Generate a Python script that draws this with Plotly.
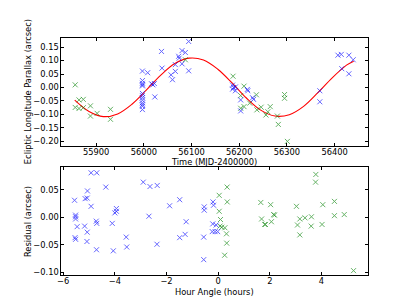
import plotly.graph_objects as go

# ---- top panel: parallax vs time ----
blue_t = [55997, 55997, 55997, 55997, 55997, 55997, 55997, 55997, 55997, 55997, 55997, 55997, 55997,
          56008, 56016, 56019, 56022, 56023, 56037, 56038, 56057, 56060, 56066, 56066, 56073, 56074,
          56080, 56080, 56087, 56094, 56094,
          56186, 56188, 56192, 56186, 56192, 56203, 56203, 56217, 56218, 56228, 56230,
          56369, 56369, 56407, 56414, 56415, 56430, 56430, 56439]
blue_p = [0.061, 0.026, 0.016, 0.010, 0.006, -0.022, -0.030, -0.038, -0.047, -0.057, -0.064, -0.070, -0.082,
          0.055, 0.014, 0.010, 0.015, -0.035, 0.134, 0.072, 0.047, 0.029, 0.060, 0.085, 0.116, 0.109,
          0.137, 0.088, 0.130, 0.171, 0.062,
          0.009, 0.000, 0.002, -0.006, -0.012, -0.046, -0.087, -0.007, -0.012, -0.038, -0.044,
          -0.012, -0.053, 0.120, 0.123, 0.070, 0.120, 0.051, 0.103]

green_t = [55856, 55856, 55864, 55864, 55873, 55873, 55888, 55888, 55902, 55930, 55930, 56087,
           56187, 56210, 56203, 56210, 56203, 56222, 56236, 56237, 56246, 56256, 56260, 56265,
           56280, 56282, 56295, 56295, 56301]
green_p = [0.010, -0.074, -0.046, -0.078, -0.044, -0.075, -0.068, -0.106, -0.096, -0.081, -0.118, 0.103,
           0.042, 0.005, -0.030, -0.071, -0.077, -0.058, -0.027, -0.083, -0.073, -0.102, -0.090, -0.071,
           -0.106, -0.137, -0.026, -0.040, -0.200]

# fitted parallax curve
fit_t = [55855, 55885, 55915, 55945, 55975, 56005, 56035, 56065, 56095, 56125, 56155,
         56185, 56215, 56245, 56275, 56305, 56335, 56365, 56395, 56425, 56440]
fit_p = [-0.047, -0.089, -0.108, -0.098, -0.062, -0.010, 0.045, 0.089, 0.109, 0.102, 0.068,
         0.017, -0.039, -0.084, -0.106, -0.101, -0.070, -0.019, 0.036, 0.083, 0.098]

# ---- bottom panel: residual vs hour angle ----
blue_h = [-5.56, -5.52, -5.52, -5.52, -5.46, -5.54, -5.52, -5.15, -5.07, -5.06, -5.17, -5.07, -5.08,
          -4.92, -4.92, -4.70, -4.72, -4.70, -4.71, -4.35, -4.10, -4.06, -4.00, -3.94, -3.94, -3.56,
          -3.54, -2.90, -2.68, -2.64, -2.36, -2.37, -1.88, -1.49, -1.49, -1.28, -1.24, -0.54, -0.54,
          -0.56, -0.56, -0.20, -0.18, -0.21, -0.08, -0.23, -0.12, -0.02]
blue_r = [0.031, 0.004, 0.001, -0.003, -0.017, -0.037, -0.040, 0.034, 0.035, 0.048, -0.016, -0.027, -0.044,
          0.020, 0.081, 0.081, -0.007, -0.011, -0.059, 0.055, -0.011, -0.061, 0.008, 0.016, 0.011, -0.036,
          -0.054, 0.064, 0.002, 0.056, 0.058, -0.049, 0.021, 0.032, -0.037, -0.031, -0.008, 0.019, 0.013,
          -0.036, -0.077, 0.028, 0.022, -0.012, -0.014, -0.026, -0.026, -0.026]

green_h = [0.04, 0.345, 0.35, 0.04, 0.09, 0.07, 0.14, 0.26, 0.32, 0.33, 0.25, 1.65, 1.68, 1.80, 1.83,
           2.03, 2.06, 2.15, 2.18, 3.03, 3.07, 3.16, 3.16, 3.36, 3.61, 3.60, 3.78, 3.77, 4.05, 4.02,
           4.50, 4.50, 4.88, 5.24]
green_r = [0.040, 0.055, 0.028, 0.011, -0.004, -0.016, -0.018, -0.019, -0.030, -0.047, -0.069, 0.027,
           -0.003, -0.013, -0.013, 0.023, -0.008, 0.005, 0.004, 0.020, -0.014, -0.003, -0.032, -0.001,
           0.001, -0.016, 0.078, 0.064, 0.023, -0.013, 0.029, 0.003, 0.005, -0.097]

BLUE = "rgb(0,0,255)"
GREEN = "rgb(0,128,0)"
FONT = "DejaVu Sans"
FS = 8.3


def xmark(color):
    return dict(symbol="x-thin", size=5, color=color, opacity=0.6,
                line=dict(width=1, color=color))


fig = go.Figure()
fig.add_trace(go.Scatter(x=fit_t, y=fit_p, mode="lines", line=dict(color="red", width=1.1, shape="spline"),
                         xaxis="x", yaxis="y", showlegend=False, hoverinfo="skip"))
fig.add_trace(go.Scatter(x=green_t, y=green_p, mode="markers", marker=xmark(GREEN),
                         xaxis="x", yaxis="y", showlegend=False))
fig.add_trace(go.Scatter(x=blue_t, y=blue_p, mode="markers", marker=xmark(BLUE),
                         xaxis="x", yaxis="y", showlegend=False))
fig.add_trace(go.Scatter(x=green_h, y=green_r, mode="markers", marker=xmark(GREEN),
                         xaxis="x2", yaxis="y2", showlegend=False))
fig.add_trace(go.Scatter(x=blue_h, y=blue_r, mode="markers", marker=xmark(BLUE),
                         xaxis="x2", yaxis="y2", showlegend=False))

axis_common = dict(showline=True, linecolor="black", linewidth=1, mirror="allticks",
                   ticks="inside", ticklen=3, tickwidth=0.8, tickcolor="black",
                   showgrid=False, zeroline=False,
                   tickfont=dict(family=FONT, size=FS, color="black"))

fig.update_layout(
    width=399, height=299,
    margin=dict(l=0, r=0, t=0, b=0),
    paper_bgcolor="white", plot_bgcolor="white",
    font=dict(family=FONT, size=FS, color="black"),
    xaxis=dict(domain=[0.125, 0.9], anchor="y", range=[55827, 56469], dtick=100, tick0=55900,
               tickformat="d", ticklabelstandoff=-2, **axis_common),
    yaxis=dict(domain=[0.5364, 0.9], anchor="x", range=[-0.216, 0.185], dtick=0.05, tick0=0,
               tickformat=".2f", **axis_common),
    xaxis2=dict(domain=[0.125, 0.9], anchor="y2", range=[-6.07, 5.78], dtick=2, tick0=0,
                ticklabelstandoff=-2, **axis_common),
    yaxis2=dict(domain=[0.1, 0.4636], anchor="x2", range=[-0.1055, 0.091], dtick=0.05, tick0=0,
                tickformat=".2f", **axis_common),
    annotations=[
        dict(text="Time (MJD-2400000)", x=0.5125, y=0.481, xref="paper", yref="paper",
             showarrow=False, xanchor="center", yanchor="middle", font=dict(family=FONT, size=FS)),
        dict(text="Hour Angle (hours)", x=0.5125, y=0.045, xref="paper", yref="paper",
             showarrow=False, xanchor="center", yanchor="middle", font=dict(family=FONT, size=FS)),
        dict(text="Ecliptic Longitude Parallax (arcsec)", x=0.039, y=0.718, xref="paper", yref="paper",
             showarrow=False, xanchor="center", yanchor="middle", textangle=-90,
             font=dict(family=FONT, size=FS)),
        dict(text="Residual (arcsec)", x=0.040, y=0.282, xref="paper", yref="paper",
             showarrow=False, xanchor="center", yanchor="middle", textangle=-90,
             font=dict(family=FONT, size=FS)),
    ],
)

fig.write_html("out.html")
